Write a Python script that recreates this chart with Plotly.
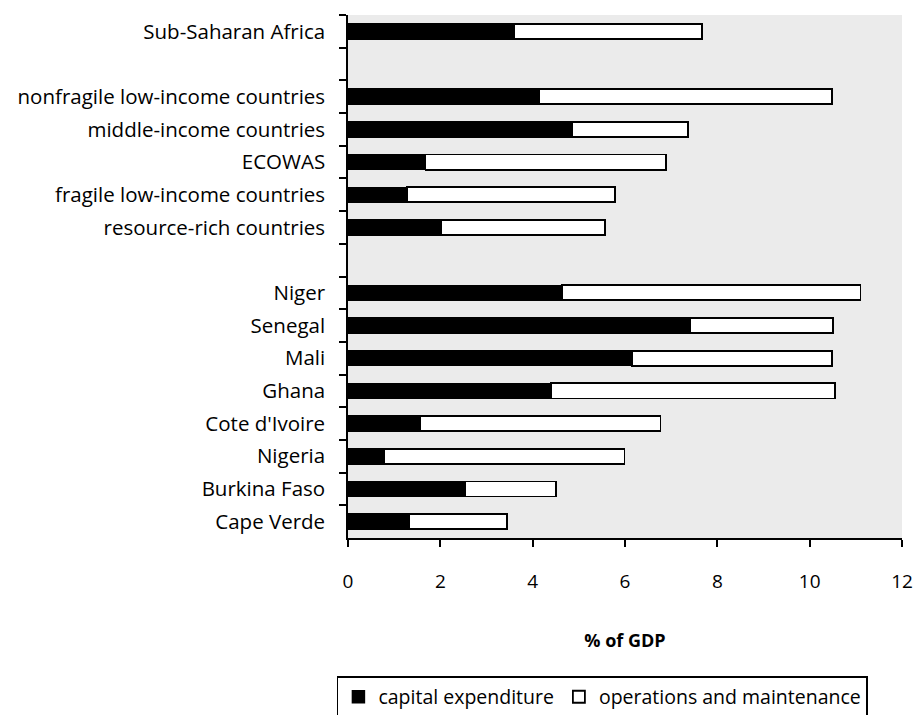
import plotly.graph_objects as go

# Regions / country groups / countries, listed top to bottom.
# Blank entries are empty rows that separate the three groups.
categories = [
    "Sub-Saharan Africa",
    " ",
    "nonfragile low-income countries",
    "middle-income countries",
    "ECOWAS",
    "fragile low-income countries",
    "resource-rich countries",
    "  ",
    "Niger",
    "Senegal",
    "Mali",
    "Ghana",
    "Cote d'Ivoire",
    "Nigeria",
    "Burkina Faso",
    "Cape Verde",
]

# % of GDP
capital_expenditure = [3.60, None, 4.14, 4.86, 1.68, 1.28, 2.02, None,
                       4.64, 7.40, 6.16, 4.40, 1.57, 0.78, 2.53, 1.32]
operations_maintenance = [4.06, None, 6.34, 2.51, 5.21, 4.51, 3.55, None,
                          6.46, 3.10, 4.32, 6.15, 5.20, 5.21, 1.97, 2.12]

x_ticks = [0, 2, 4, 6, 8, 10, 12]

FONT = "'Open Sans', sans-serif"
FS = 20.5

fig = go.Figure()
fig.add_trace(go.Bar(
    y=categories, x=capital_expenditure, orientation="h",
    name="capital expenditure", width=0.46,
    marker=dict(color="black", line=dict(color="black", width=1.5)),
))
fig.add_trace(go.Bar(
    y=categories, x=operations_maintenance, orientation="h",
    name="operations and maintenance", width=0.46,
    marker=dict(color="white", line=dict(color="black", width=1.8)),
))

fig.update_layout(
    barmode="stack",
    width=913, height=715,
    margin=dict(l=348, r=11, t=15, b=177, autoexpand=False),
    paper_bgcolor="white",
    plot_bgcolor="#EBEBEB",
    font=dict(family=FONT, size=FS, color="black"),
    showlegend=True,
    legend=dict(
        orientation="h",
        x=-0.02, xanchor="left",
        y=-0.264, yanchor="top",
        bordercolor="black", borderwidth=1.5,
        font=dict(family=FONT, size=19.5, color="black"),
        traceorder="normal",
        itemwidth=30,
    ),
    xaxis=dict(
        range=[0, 12],
        tickvals=x_ticks,
        ticks="outside", ticklen=7, tickwidth=1.5, tickcolor="black",
        showline=True, linecolor="black", linewidth=1.5,
        showgrid=False, zeroline=False, automargin=False,
        tickfont=dict(size=19),
        ticklabelstandoff=18,
        title=dict(text="<b>% of GDP</b>", font=dict(size=18), standoff=42),
    ),
    yaxis=dict(
        type="category",
        categoryorder="array", categoryarray=categories,
        range=[15.5, -0.5],
        tickson="boundaries",
        ticks="outside", ticklen=7, tickwidth=1.5, tickcolor="black",
        showline=True, linecolor="black", linewidth=1.5,
        showgrid=False, zeroline=False, automargin=False,
        tickfont=dict(size=FS),
        ticklabelstandoff=17,
    ),
)

fig.write_html("out.html")
